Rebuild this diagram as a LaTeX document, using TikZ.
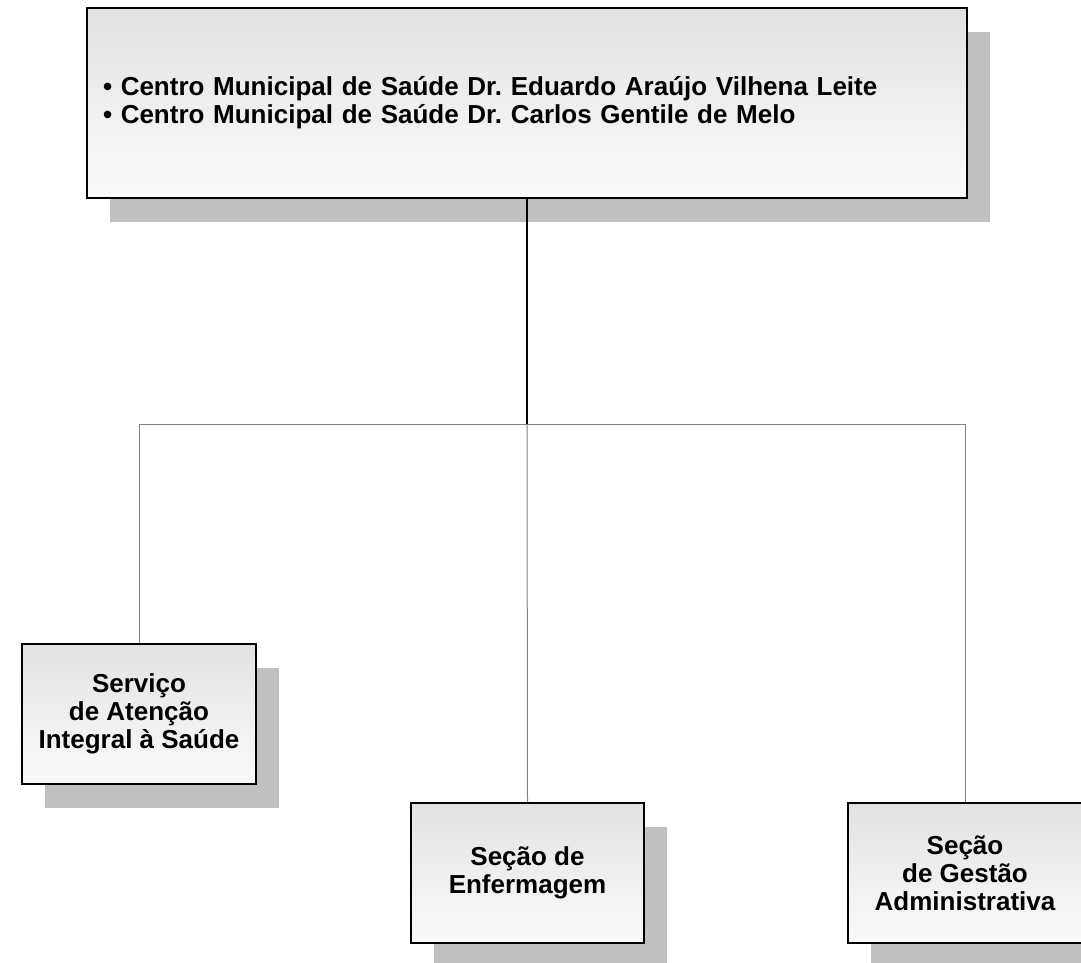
\documentclass[tikz,border=0pt]{standalone}
\usepackage{fontspec}
\setmainfont{Liberation Sans}
\usetikzlibrary{shadows}
\definecolor{shadowgray}{HTML}{C0C0C0}
\definecolor{linkgray}{HTML}{808080}
\definecolor{boxtop}{HTML}{E2E2E2}
\definecolor{boxbot}{HTML}{FBFBFB}
\frenchspacing
\begin{document}
\begin{tikzpicture}[x=1pt,y=-1pt,
  box/.style={draw=black, line width=1.5pt, top color=boxtop, bottom color=boxbot,
    drop shadow={shadow xshift=23pt, shadow yshift=-24pt, fill=shadowgray, draw=none, opacity=1},
    font=\bfseries\fontsize{26}{28}\selectfont, align=center, inner sep=0pt},
  unit/.style={box, minimum width=234pt, minimum height=140pt},
  link/.style={draw=linkgray, line width=1pt},
  mainlink/.style={draw=black, line width=1.5pt}]
\useasboundingbox (0,0) rectangle (1081,962);
\node[box, minimum width=880pt, minimum height=190pt, text width=848pt, inner xsep=16pt, align=left]
  (top) at (527,103) {\raisebox{-3pt}{\parbox{848pt}{\textbullet\ Centro Municipal de Saúde Dr. Eduardo Araújo Vilhena Leite\\
  \textbullet\ Centro Municipal de Saúde Dr. Carlos Gentile de Melo}}};
\node[unit] (left) at (139,714) {Serviço\\ de Atenção\\ Integral à Saúde};
\node[unit, minimum width=233pt] (mid) at (527.5,873) {Seção de\\ Enfermagem};
\node[unit] (right) at (965,873) {Seção\\ de Gestão\\ Administrativa};
\coordinate (j) at (527,424);
\coordinate (jl) at (139,424);
\coordinate (jr) at (965,424);
\draw[mainlink] (top.south) -- (j);
\draw[link] (jl) -- (jr);
\draw[link] (jl) -- (left.north);
\draw[link] (j) -- (mid.north);
\draw[link] (jr) -- (right.north);
\end{tikzpicture}
\end{document}
